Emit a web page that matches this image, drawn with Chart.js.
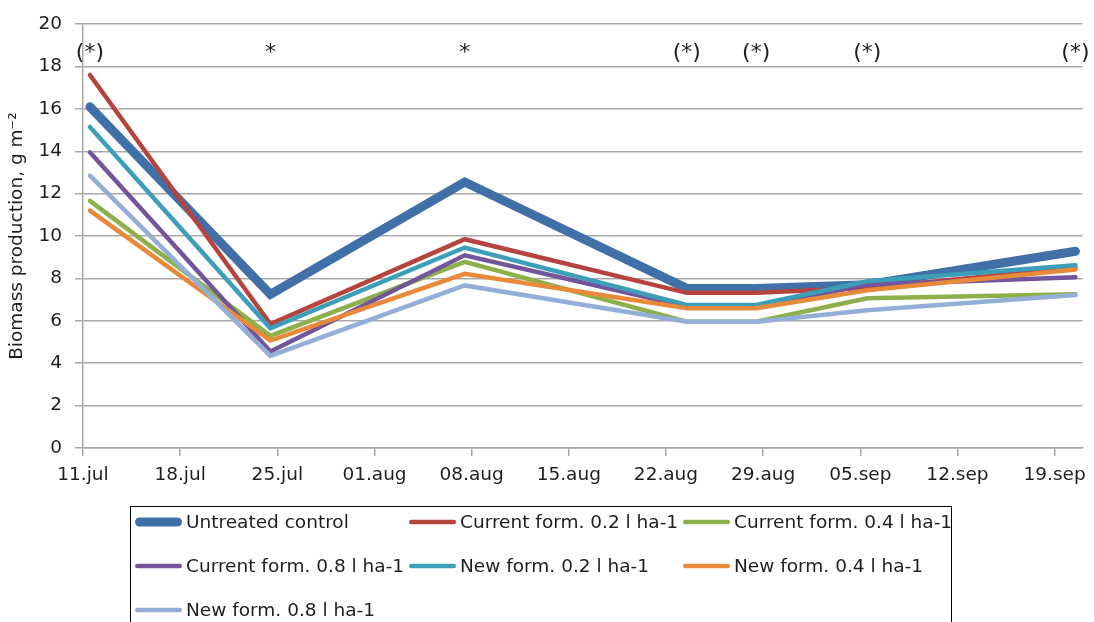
<!DOCTYPE html>
<html>
<head>
<meta charset="utf-8">
<script src="https://cdn.jsdelivr.net/npm/chart.js@4.4.1/dist/chart.umd.min.js"></script>
<style>
  html, body { margin: 0; padding: 0; background: #ffffff; }
  #wrap { width: 1094px; height: 622px; position: relative; overflow: hidden; }
</style>
</head>
<body>
<div id="wrap"><canvas id="chart" width="1094" height="622"></canvas></div>
<script>
// Sampling dates (day.month) and the weekly axis labels
const sampleDates = ['11.jul', '24.jul', '07.aug', '23.aug', '28.aug', '05.sep', '20.sep'];
const axisTickLabels = ['11.jul', '18.jul', '25.jul', '01.aug', '08.aug', '15.aug',
                        '22.aug', '29.aug', '05.sep', '12.sep', '19.sep'];
// Significance marks shown above each sampling date
const significance = ['(*)', '*', '*', '(*)', '(*)', '(*)', '(*)'];

// Biomass production, g m-2
const seriesNames = ['Untreated control', 'Current form. 0.2 l ha-1', 'Current form. 0.4 l ha-1',
                     'Current form. 0.8 l ha-1', 'New form. 0.2 l ha-1', 'New form. 0.4 l ha-1',
                     'New form. 0.8 l ha-1'];
const untreated = [16.1, 7.25, 12.55, 7.53, 7.53, 7.7, 9.28];
const current02 = [17.6, 5.85, 9.85, 7.32, 7.32, 7.55, 8.5];
const current04 = [11.66, 5.29, 8.78, 5.96, 5.96, 7.06, 7.25];
const current08 = [13.95, 4.55, 9.09, 6.68, 6.68, 7.7, 8.06];
const new02 = [15.15, 5.65, 9.46, 6.75, 6.75, 7.87, 8.62];
const new04 = [11.2, 5.07, 8.22, 6.59, 6.59, 7.44, 8.42];
const new08 = [12.85, 4.35, 7.67, 5.96, 5.96, 6.5, 7.22];

const seriesValues = [untreated, current02, current04, current08, new02, new04, new08];
const seriesColors = ['#4170A8', '#B5443F', '#8DB04A', '#73559B', '#3C9EB8', '#E98A3B', '#93AFD7'];
const seriesWidths = [9, 4.5, 4.5, 4.5, 4.5, 4.5, 4.5];

const FONT = '"DejaVu Sans", Verdana, sans-serif';
const FONT_SIZE = 18.5;
const TEXT = '#1E1E1E';
const GRID = '#A9A9A9';

// Day offset from the first axis date; each point sits in the middle of its day
const MONTHS = { jul: 6, aug: 7, sep: 8 };
function dayIndex(label) {
  const [d, m] = label.split('.');
  return (Date.UTC(2000, MONTHS[m], +d) - Date.UTC(2000, 6, 11)) / 86400000;
}
const sampleX = sampleDates.map(d => dayIndex(d) + 0.5);
const tickDays = axisTickLabels.map(dayIndex);
const axisMax = dayIndex(sampleDates[sampleDates.length - 1]) + 1;

const datasets = seriesNames.map((name, i) => ({
  label: name,
  data: seriesValues[i].map((v, k) => ({ x: sampleX[k], y: v })),
  borderColor: seriesColors[i],
  backgroundColor: seriesColors[i],
  borderWidth: seriesWidths[i],
  borderCapStyle: 'round',
  borderJoinStyle: 'miter',
  pointRadius: 0,
  pointHoverRadius: 0,
  tension: 0,
  fill: false,
  order: seriesNames.length - i   // later series are drawn on top
}));

// Significance marks above the plot
const marksPlugin = {
  id: 'significanceMarks',
  afterDatasetsDraw(chart) {
    const { ctx, scales } = chart;
    ctx.save();
    ctx.font = '22px ' + FONT;
    ctx.fillStyle = TEXT;
    ctx.textAlign = 'center';
    ctx.textBaseline = 'alphabetic';
    significance.forEach((s, i) => {
      ctx.fillText(s, scales.x.getPixelForValue(sampleX[i]), 59);
    });
    ctx.restore();
  }
};

// Boxed legend in three columns
const legendPlugin = {
  id: 'boxedLegend',
  afterDraw(chart) {
    const ctx = chart.ctx;
    ctx.save();
    ctx.strokeStyle = '#000000';
    ctx.lineWidth = 1;
    ctx.strokeRect(130.5, 506.5, 821, 150);
    ctx.font = FONT_SIZE + 'px ' + FONT;
    ctx.textBaseline = 'middle';
    ctx.textAlign = 'left';
    chart.data.datasets.forEach((ds, i) => {
      const col = i % 3, row = Math.floor(i / 3);
      const x = 135 + col * 274;
      const y = 522 + row * 44;
      ctx.strokeStyle = ds.borderColor;
      ctx.lineWidth = ds.borderWidth;
      ctx.lineCap = 'round';
      ctx.beginPath();
      ctx.moveTo(x + ds.borderWidth / 2, y);
      ctx.lineTo(x + 47 - ds.borderWidth / 2, y);
      ctx.stroke();
      ctx.fillStyle = TEXT;
      ctx.fillText(ds.label, x + 51, y + 1);
    });
    ctx.restore();
  }
};

new Chart(document.getElementById('chart'), {
  type: 'line',
  data: { datasets },
  plugins: [marksPlugin, legendPlugin],
  options: {
    responsive: false,
    animation: false,
    devicePixelRatio: 1,
    layout: { padding: { left: 0, right: 10, top: 22, bottom: 114 } },
    plugins: { legend: { display: false }, tooltip: { enabled: false } },
    scales: {
      x: {
        type: 'linear',
        min: 0,
        max: axisMax,
        afterBuildTicks: axis => { axis.ticks = tickDays.map(v => ({ value: v })); },
        afterFit: s => { s.height = 60; },
        ticks: {
          callback: (v, idx) => axisTickLabels[idx],
          autoSkip: false,
          maxRotation: 0,
          padding: 8,
          color: TEXT,
          font: { family: FONT, size: FONT_SIZE }
        },
        grid: { drawOnChartArea: false, drawTicks: true, tickLength: 8, color: GRID, lineWidth: 1.5 },
        border: { display: true, color: GRID, width: 1.5 }
      },
      y: {
        min: 0,
        max: 20,
        afterFit: s => { s.width = 83; },
        ticks: {
          stepSize: 2,
          padding: 13,
          color: TEXT,
          font: { family: FONT, size: FONT_SIZE }
        },
        grid: { color: GRID, lineWidth: 1.5, tickLength: 8, drawTicks: true },
        border: { display: true, color: GRID, width: 1.5 },
        title: {
          display: true,
          text: 'Biomass production, g m\u207B\u00B2',
          color: TEXT,
          font: { family: FONT, size: FONT_SIZE },
          padding: { top: 6, bottom: 0 }
        }
      }
    }
  }
});
</script>
</body>
</html>
